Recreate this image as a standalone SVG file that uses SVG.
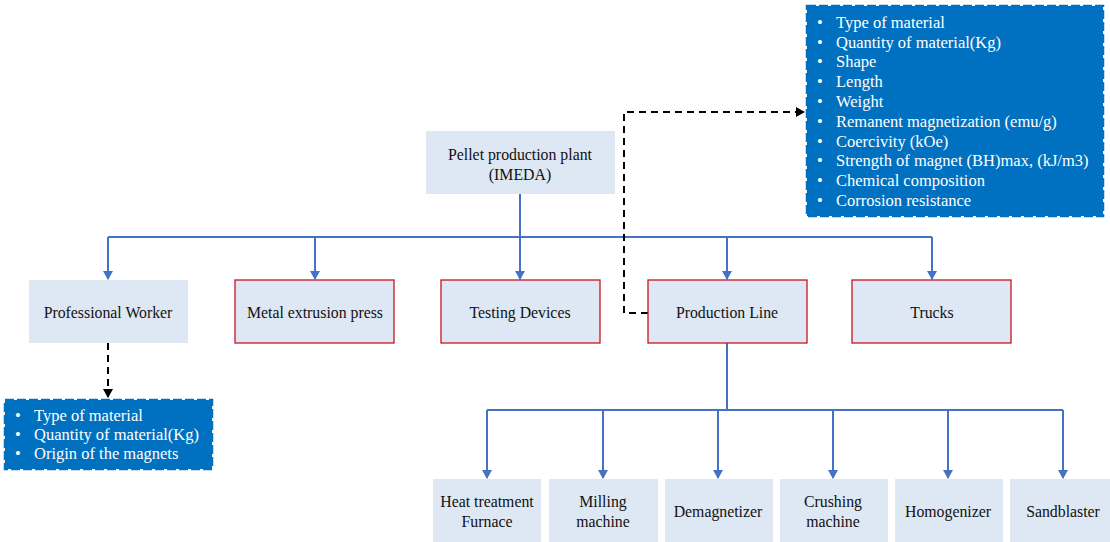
<svg xmlns="http://www.w3.org/2000/svg" width="1110" height="542" viewBox="0 0 1110 542">
  <style>
    .box { fill: #DEE8F4; }
    .red { stroke: #C8141E; stroke-width: 1.3; }
    .lbl { font-family: "Liberation Serif", "Times New Roman", serif; font-size: 15.8px; fill: #111; text-anchor: middle; }
    .list { fill: #0070C0; stroke: #0070C0; stroke-width: 2.5; stroke-dasharray: 9 3; }
    .item { font-family: "Liberation Serif", "Times New Roman", serif; font-size: 16.5px; fill: #FFFFFF; }
    .tree { fill: none; stroke: #4472C4; stroke-width: 2; }
    .dash { fill: none; stroke: #000; stroke-width: 2; stroke-dasharray: 7 5; }
  </style>
  <defs>
    <marker id="blueArrow" markerWidth="10" markerHeight="10" refX="8" refY="5" orient="auto" markerUnits="userSpaceOnUse">
      <path d="M0,0 L9,5 L0,10 z" fill="#4472C4"/>
    </marker>
    <marker id="blackArrow" markerWidth="10" markerHeight="10" refX="8" refY="5" orient="auto" markerUnits="userSpaceOnUse">
      <path d="M0,0 L9,5 L0,10 z" fill="#000"/>
    </marker>
  </defs>

  <!-- connectors -->
  <g id="connectors">
    <path class="tree" d="M520,194 V237"/>
    <path class="tree" d="M108,237 H932"/>
    <path class="tree" d="M108,237 V279" marker-end="url(#blueArrow)"/>
    <path class="tree" d="M315,237 V279" marker-end="url(#blueArrow)"/>
    <path class="tree" d="M520,237 V279" marker-end="url(#blueArrow)"/>
    <path class="tree" d="M727,237 V279" marker-end="url(#blueArrow)"/>
    <path class="tree" d="M932,237 V279" marker-end="url(#blueArrow)"/>

    <path class="tree" d="M727,343 V410"/>
    <path class="tree" d="M487,410 H1063"/>
    <path class="tree" d="M487,410 V478" marker-end="url(#blueArrow)"/>
    <path class="tree" d="M603,410 V478" marker-end="url(#blueArrow)"/>
    <path class="tree" d="M718,410 V478" marker-end="url(#blueArrow)"/>
    <path class="tree" d="M833,410 V478" marker-end="url(#blueArrow)"/>
    <path class="tree" d="M948,410 V478" marker-end="url(#blueArrow)"/>
    <path class="tree" d="M1063,410 V478" marker-end="url(#blueArrow)"/>

    <path class="dash" d="M108,343 V397" marker-end="url(#blackArrow)"/>
    <path class="dash" d="M648,313 H624 V112 H804" marker-end="url(#blackArrow)"/>
  </g>

  <!-- root -->
  <g id="plant">
    <rect class="box" x="426" y="131" width="189" height="63"/>
    <text class="lbl" x="520" y="160">Pellet production plant</text>
    <text class="lbl" x="520" y="180">(IMEDA)</text>
  </g>

  <!-- second level -->
  <g id="worker">
    <rect class="box" x="29" y="280" width="159" height="63"/>
    <text class="lbl" x="108" y="318">Professional Worker</text>
  </g>
  <g id="extrusion">
    <rect class="box red" x="235" y="280" width="159" height="63"/>
    <text class="lbl" x="315" y="318">Metal extrusion press</text>
  </g>
  <g id="testing">
    <rect class="box red" x="441" y="280" width="159" height="63"/>
    <text class="lbl" x="520" y="318">Testing Devices</text>
  </g>
  <g id="production-line">
    <rect class="box red" x="648" y="280" width="159" height="63"/>
    <text class="lbl" x="727" y="318">Production Line</text>
  </g>
  <g id="trucks">
    <rect class="box red" x="852" y="280" width="159" height="63"/>
    <text class="lbl" x="932" y="318">Trucks</text>
  </g>

  <!-- production line equipment -->
  <g id="furnace">
    <rect class="box" x="433" y="479" width="108" height="63"/>
    <text class="lbl" x="487" y="507">Heat treatment</text>
    <text class="lbl" x="487" y="527">Furnace</text>
  </g>
  <g id="milling">
    <rect class="box" x="549" y="479" width="109" height="63"/>
    <text class="lbl" x="603" y="507">Milling</text>
    <text class="lbl" x="603" y="527">machine</text>
  </g>
  <g id="demagnetizer">
    <rect class="box" x="665" y="479" width="108" height="63"/>
    <text class="lbl" x="718" y="517">Demagnetizer</text>
  </g>
  <g id="crushing">
    <rect class="box" x="780" y="479" width="108" height="63"/>
    <text class="lbl" x="833" y="507">Crushing</text>
    <text class="lbl" x="833" y="527">machine</text>
  </g>
  <g id="homogenizer">
    <rect class="box" x="895" y="479" width="108" height="63"/>
    <text class="lbl" x="948" y="517">Homogenizer</text>
  </g>
  <g id="sandblaster">
    <rect class="box" x="1010" y="479" width="100" height="63"/>
    <text class="lbl" x="1063" y="517">Sandblaster</text>
  </g>

  <!-- worker data list -->
  <g id="worker-data">
    <rect class="list" x="5" y="400" width="207" height="69"/>
    <g class="item">
      <text x="15" y="421">•</text><text x="34" y="421">Type of material</text>
      <text x="15" y="440">•</text><text x="34" y="440">Quantity of material(Kg)</text>
      <text x="15" y="459">•</text><text x="34" y="459">Origin of the magnets</text>
    </g>
  </g>

  <!-- production line data list -->
  <g id="line-data">
    <rect class="list" x="807" y="6" width="296" height="210"/>
    <g class="item">
      <text x="817" y="28">•</text><text x="836" y="28">Type of material</text>
      <text x="817" y="48">•</text><text x="836" y="48">Quantity of material(Kg)</text>
      <text x="817" y="67">•</text><text x="836" y="67">Shape</text>
      <text x="817" y="87">•</text><text x="836" y="87">Length</text>
      <text x="817" y="107">•</text><text x="836" y="107">Weight</text>
      <text x="817" y="127">•</text><text x="836" y="127">Remanent magnetization (emu/g)</text>
      <text x="817" y="147">•</text><text x="836" y="147">Coercivity (kOe)</text>
      <text x="817" y="166">•</text><text x="836" y="166">Strength of magnet (BH)max, (kJ/m3)</text>
      <text x="817" y="186">•</text><text x="836" y="186">Chemical composition</text>
      <text x="817" y="206">•</text><text x="836" y="206">Corrosion resistance</text>
    </g>
  </g>
</svg>
